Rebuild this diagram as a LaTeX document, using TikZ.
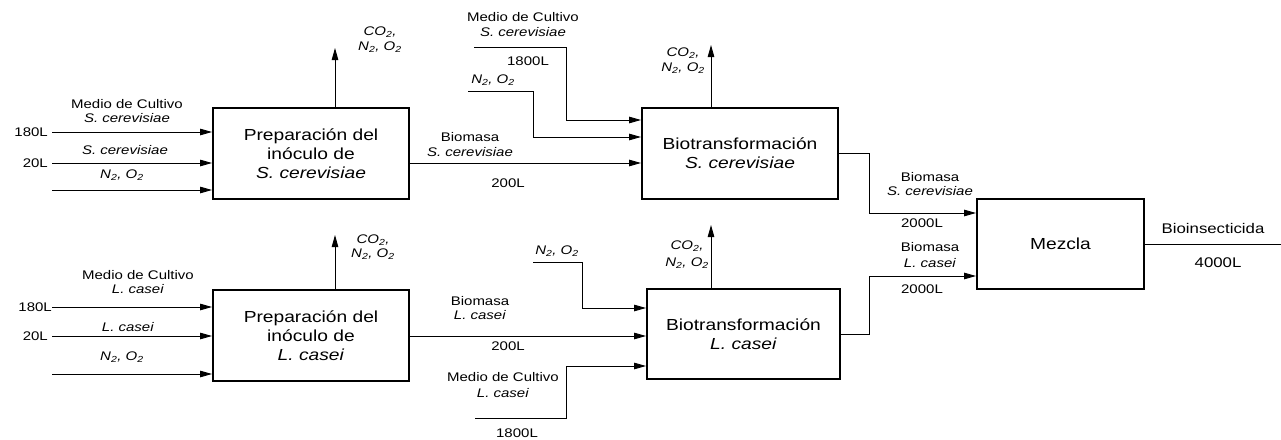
\documentclass[tikz,border=0pt]{standalone}
\usepackage{fontspec}
\setmainfont{Liberation Sans}[FakeStretch=1.2]
\usetikzlibrary{arrows.meta,calc}
\newcommand\smf{\fontsize{12.5}{14}\selectfont}
\newcommand\bxf{\fontsize{16}{19}\selectfont}
\newcommand\mdf{\fontsize{14}{16}\selectfont}
\newcommand\gas{\textit{N\textsubscript{2}, O\textsubscript{2}}}
\newcommand\cog{\textit{CO\textsubscript{2},}}
\tikzset{
  proc/.style={draw,line width=1.9pt,minimum width=#1,inner sep=0pt,align=center,font=\bxf},
  flow/.style={line width=0.9pt,-{Triangle[length=12pt,width=6.5pt]}},
  lbl/.style={inner sep=0pt,font=\smf,align=center},
}
\begin{document}
\begin{tikzpicture}[x=1pt,y=-1pt]
\useasboundingbox (0,0) rectangle (1281,439);
% boxes
\node[proc=196pt,minimum height=91pt] (b1) at (311,153.5) {Preparación del\\inóculo de\\\textit{S. cerevisiae}};
\node[proc=196pt,minimum height=91pt] (b2) at (740,153.5) {Biotransformación\\\textit{S. cerevisiae}};
\node[proc=167pt,minimum height=90pt] (b3) at (1060.5,244) {Mezcla};
\node[proc=196pt,minimum height=91pt] (b4) at (311,335.5) {Preparación del\\inóculo de\\\textit{L. casei}};
\node[proc=193pt,minimum height=90pt] (b5) at (743.5,334) {Biotransformación\\\textit{L. casei}};
% inputs box 1
\coordinate (i1) at (52,132);
\coordinate (i2) at (52,163);
\coordinate (i3) at (52,190);
\draw[flow] (i1) -- (i1 -| b1.west);
\draw[flow] (i2) -- (i2 -| b1.west);
\draw[flow] (i3) -- (i3 -| b1.west);
\node[lbl,anchor=east] (t180a) at (48,132) {180L};
\node[lbl,anchor=east] (t20a) at (48,163) {20L};
\node[lbl] (tm1) at (127,104) {Medio de Cultivo};
\node[lbl] (tm1b) at (127,118) {\textit{S. cerevisiae}};
\node[lbl] (ts1) at (125,150) {\textit{S. cerevisiae}};
\node[lbl] (tg1) at (122,175) {\gas};
% up arrow box 1
\coordinate (u1) at (335,48);
\draw[flow] (b1.north -| u1) -- (u1);
\node[lbl] (tc1) at (380,32) {\cog};
\node[lbl] (tc1b) at (380,47) {\gas};
% box1 -> box2
\coordinate (k12) at (409,163);
\draw[flow] (k12) -- (k12 -| b2.west);
\node[lbl] (tb12) at (470,137) {Biomasa};
\node[lbl] (tb12b) at (470,152) {\textit{S. cerevisiae}};
\node[lbl] (tv12) at (508,183) {200L};
% medio into box 2
\coordinate (ms) at (474,47);
\coordinate (msk) at (566,120);
\draw[flow] (ms) -| (msk) -- (msk -| b2.west);
\node[lbl] (tm2) at (523,17) {Medio de Cultivo};
\node[lbl] (tm2b) at (523,32) {\textit{S. cerevisiae}};
\node[lbl] (tv2) at (528,61) {1800L};
% gas into box 2
\coordinate (gs) at (468,91);
\coordinate (gsk) at (533,137);
\draw[flow] (gs) -| (gsk) -- (gsk -| b2.west);
\node[lbl] (tg2) at (493,80) {\gas};
% up arrow box 2
\coordinate (u2) at (711,45);
\draw[flow] (b2.north -| u2) -- (u2);
\node[lbl] (tc2) at (683,53) {\cog};
\node[lbl] (tc2b) at (683,68) {\gas};
% box2 -> box3
\coordinate (k23) at (869,213);
\draw[flow] (b2.east) -| (k23) -- (k23 -| b3.west);
\node[lbl] (tb23) at (930,177) {Biomasa};
\node[lbl] (tb23b) at (930,191) {\textit{S. cerevisiae}};
\node[lbl] (tv23) at (922,223) {2000L};
% box5 -> box3
\coordinate (k53) at (869,276);
\draw[flow] (b5.east) -| (k53) -- (k53 -| b3.west);
\node[lbl] (tb53) at (930,247) {Biomasa};
\node[lbl] (tb53b) at (930,263) {\textit{L. casei}};
\node[lbl] (tv53) at (922,289) {2000L};
% output
\coordinate (out) at (1281,244);
\draw[line width=0.9pt] (b3.east) -- (out);
\node[inner sep=0pt,font=\mdf] (tbi) at (1213,228) {Bioinsecticida};
\node[inner sep=0pt,font=\mdf] (tv4) at (1218,263) {4000L};
% inputs box 4
\coordinate (j1) at (52,307);
\coordinate (j2) at (52,336);
\coordinate (j3) at (52,374);
\draw[flow] (j1) -- (j1 -| b4.west);
\draw[flow] (j2) -- (j2 -| b4.west);
\draw[flow] (j3) -- (j3 -| b4.west);
\node[lbl,anchor=east] (t180b) at (52,307) {180L};
\node[lbl,anchor=east] (t20b) at (48,336) {20L};
\node[lbl] (tm4) at (138,275) {Medio de Cultivo};
\node[lbl] (tm4b) at (138,289) {\textit{L. casei}};
\node[lbl] (ts4) at (128,327) {\textit{L. casei}};
\node[lbl] (tg4) at (122,357) {\gas};
% up arrow box 4
\coordinate (u4) at (335,235);
\draw[flow] (b4.north -| u4) -- (u4);
\node[lbl] (tc4) at (373,240) {\cog};
\node[lbl] (tc4b) at (373,254) {\gas};
% box4 -> box5
\coordinate (k45) at (409,336);
\draw[flow] (k45) -- (k45 -| b5.west);
\node[lbl] (tb45) at (480,301) {Biomasa};
\node[lbl] (tb45b) at (480,315) {\textit{L. casei}};
\node[lbl] (tv45) at (508,346) {200L};
% gas into box 5
\coordinate (hs) at (533,262);
\coordinate (hsk) at (582,308);
\draw[flow] (hs) -| (hsk) -- (hsk -| b5.west);
\node[lbl] (tg5) at (557,251) {\gas};
% medio into box 5
\coordinate (ns) at (475,418);
\coordinate (nsk) at (566,366);
\draw[flow] (ns) -| (nsk) -- (nsk -| b5.west);
\node[lbl] (tm5) at (503,377) {Medio de Cultivo};
\node[lbl] (tm5b) at (503,393) {\textit{L. casei}};
\node[lbl] (tv5) at (517,433) {1800L};
% up arrow box 5
\coordinate (u5) at (711,225);
\draw[flow] (b5.north -| u5) -- (u5);
\node[lbl] (tc5) at (687,246) {\cog};
\node[lbl] (tc5b) at (687,263) {\gas};
\end{tikzpicture}
\end{document}
